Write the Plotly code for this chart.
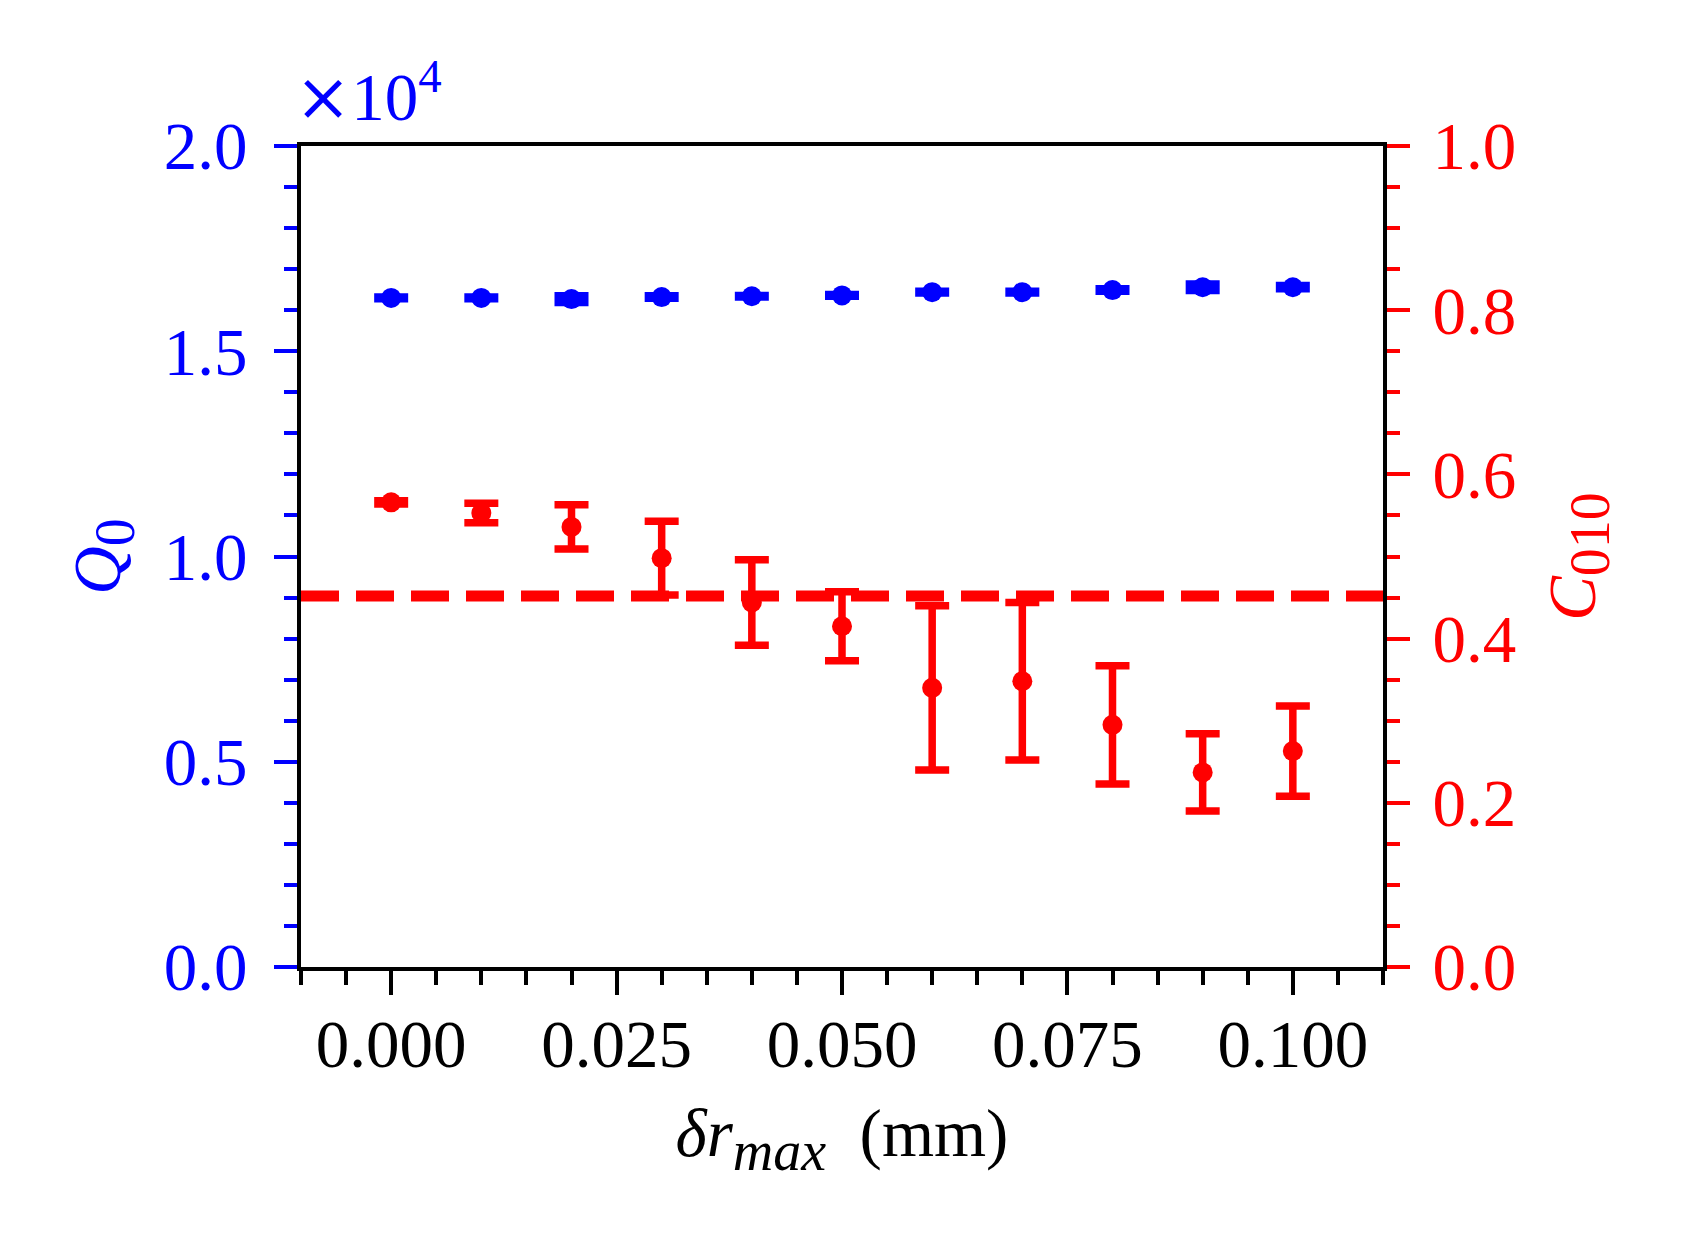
import plotly.graph_objects as go

# ---- data ----
dr_max = [0.00, 0.01, 0.02, 0.03, 0.04, 0.05, 0.06, 0.07, 0.08, 0.09, 0.10]
Q0 = [16300, 16300, 16270, 16320, 16340, 16360, 16440, 16440, 16490, 16560, 16560]
Q0_err = [20, 20, 80, 30, 20, 20, 20, 20, 30, 80, 40]
C010 = [0.566, 0.553, 0.536, 0.498, 0.444, 0.415, 0.340, 0.348, 0.295, 0.237, 0.263]
C010_err = [0.002, 0.012, 0.027, 0.045, 0.052, 0.042, 0.100, 0.096, 0.072, 0.047, 0.055]
C010_threshold = 0.452

x_range = [-0.01, 0.11]
x_ticks = [0.0, 0.025, 0.05, 0.075, 0.1]
x_ticktext = ["0.000", "0.025", "0.050", "0.075", "0.100"]
q_ticks = [0, 5000, 10000, 15000, 20000]
q_ticktext = ["0.0", "0.5", "1.0", "1.5", "2.0"]
c_ticks = [0.0, 0.2, 0.4, 0.6, 0.8, 1.0]
c_ticktext = ["0.0", "0.2", "0.4", "0.6", "0.8", "1.0"]

BLUE = "#0000ff"
RED = "#ff0000"
FONT = "Liberation Serif"
FS = 67

fig = go.Figure()

fig.add_trace(go.Scatter(
    x=x_range, y=[C010_threshold, C010_threshold], yaxis="y2",
    mode="lines", line=dict(color=RED, width=11, dash="38px,17px"),
    showlegend=False, hoverinfo="skip"))

fig.add_trace(go.Scatter(
    x=dr_max, y=Q0, mode="markers",
    marker=dict(color=BLUE, size=20),
    error_y=dict(type="data", array=Q0_err, color=BLUE, thickness=7.5, width=17),
    showlegend=False))

fig.add_trace(go.Scatter(
    x=dr_max, y=C010, yaxis="y2", mode="markers",
    marker=dict(color=RED, size=20),
    error_y=dict(type="data", array=C010_err, color=RED, thickness=7.5, width=17),
    showlegend=False))

fig.update_layout(
    width=1687, height=1250,
    margin=dict(l=293, r=312, t=138, b=291),
    paper_bgcolor="white", plot_bgcolor="white",
    font=dict(family=FONT, size=FS, color="black"),
    xaxis=dict(
        range=x_range, tickvals=x_ticks, ticktext=x_ticktext,
        showgrid=False, zeroline=False,
        showline=True, linecolor="black", linewidth=4, mirror=True,
        ticks="outside", ticklen=24, tickwidth=4, tickcolor="black",
        minor=dict(ticks="outside", ticklen=14, tickwidth=3.5, tickcolor="black",
                   dtick=0.005, tick0=0, showgrid=False),
        tickfont=dict(family=FONT, size=FS, color="black"),
        ticklabelstandoff=-8,
        title=dict(text="<i>δr</i><sub><span style='font-size:56px'><i>max</i></span></sub>  (mm)",
                   font=dict(family=FONT, size=FS, color="black"), standoff=30),
    ),
    yaxis=dict(
        range=[0, 20000], tickvals=q_ticks, ticktext=q_ticktext,
        showgrid=False, zeroline=False,
        showline=True, linecolor="black", linewidth=4,
        ticks="outside", ticklen=23, tickwidth=4, tickcolor=BLUE,
        minor=dict(ticks="outside", ticklen=13, tickwidth=3.5, tickcolor=BLUE,
                   dtick=1000, tick0=0, showgrid=False),
        tickfont=dict(family=FONT, size=FS, color=BLUE),
        ticklabelstandoff=13,
        title=dict(text="<i>Q</i><sub><span style='font-size:56px'>0</span></sub>",
                   font=dict(family=FONT, size=FS, color=BLUE), standoff=22),
    ),
    yaxis2=dict(
        range=[0, 1], tickvals=c_ticks, ticktext=c_ticktext,
        overlaying="y", side="right", anchor="x",
        showgrid=False, zeroline=False,
        showline=True, linecolor="black", linewidth=4,
        ticks="outside", ticklen=23, tickwidth=4, tickcolor=RED,
        minor=dict(ticks="outside", ticklen=13, tickwidth=3.5, tickcolor=RED,
                   dtick=0.05, tick0=0, showgrid=False),
        tickfont=dict(family=FONT, size=FS, color=RED),
        ticklabelstandoff=9,
        title=dict(text="<i>C</i><sub><span style='font-size:56px'>010</span></sub>",
                   font=dict(family=FONT, size=FS, color=RED), standoff=34),
    ),
    annotations=[dict(
        text="<span style='font-family:DejaVu Serif'>×</span>10<sup>4</sup>",
        xref="paper", yref="paper", x=0, y=1,
        xanchor="left", yanchor="bottom", showarrow=False, yshift=8, xshift=-8,
        font=dict(family=FONT, size=FS, color=BLUE))],
)

fig.write_html("out.html")
